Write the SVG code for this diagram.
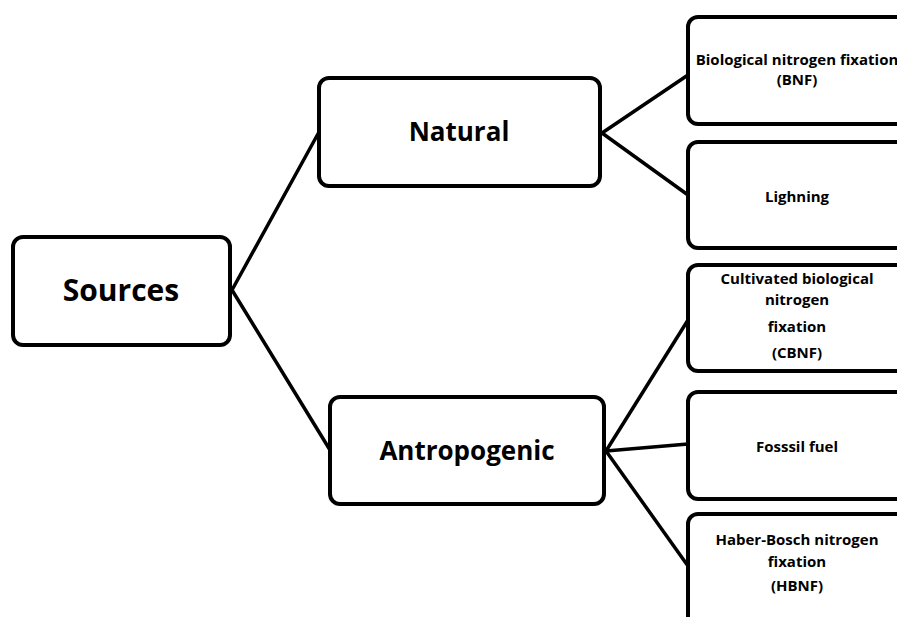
<svg xmlns="http://www.w3.org/2000/svg" width="897" height="617" viewBox="0 0 897 617">
<style>
.box{fill:#fff;stroke:#000;stroke-width:4}
.t{font-family:"Open Sans","Noto Sans",sans-serif;font-weight:bold;fill:#000;text-anchor:middle}
.big{font-size:30px}
.mid{font-size:26px}
.sm{font-size:15px}
.c{stroke:#000;stroke-width:3.5;fill:none;stroke-linecap:round}
</style>
<rect width="897" height="617" fill="#fff"/>
<g id="connectors">
<line class="c" x1="232" y1="290" x2="319" y2="132"/>
<line class="c" x1="232" y1="290" x2="330" y2="450"/>
<line class="c" x1="602" y1="133" x2="688" y2="75"/>
<line class="c" x1="602" y1="133" x2="688" y2="195"/>
<line class="c" x1="606" y1="451" x2="688" y2="320"/>
<line class="c" x1="606" y1="451" x2="688" y2="444"/>
<line class="c" x1="606" y1="451" x2="688" y2="566"/>
</g>
<g id="sources">
<rect class="box" x="13" y="237" width="217" height="108" rx="10"/>
<text class="t big" x="121" y="301">Sources</text>
</g>
<g id="natural">
<rect class="box" x="319" y="78" width="281" height="108" rx="10"/>
<text class="t mid" x="459" y="141">Natural</text>
</g>
<g id="antropogenic">
<rect class="box" x="330" y="397" width="274" height="107" rx="10"/>
<text class="t mid" x="467" y="460">Antropogenic</text>
</g>
<g id="bnf">
<rect class="box" x="688" y="17" width="230" height="107" rx="10"/>
<text class="t sm" x="797" y="65">Biological nitrogen fixation</text>
<text class="t sm" x="797" y="85">(BNF)</text>
</g>
<g id="lighning">
<rect class="box" x="688" y="142" width="230" height="106" rx="10"/>
<text class="t sm" x="797" y="202">Lighning</text>
</g>
<g id="cbnf">
<rect class="box" x="688" y="265" width="230" height="106" rx="10"/>
<text class="t sm" x="797" y="284">Cultivated biological</text>
<text class="t sm" x="797" y="305">nitrogen</text>
<text class="t sm" x="797" y="332">fixation</text>
<text class="t sm" x="797" y="358">(CBNF)</text>
</g>
<g id="fossil">
<rect class="box" x="688" y="392" width="230" height="107" rx="10"/>
<text class="t sm" x="797" y="452">Fosssil fuel</text>
</g>
<g id="hbnf">
<rect class="box" x="688" y="514" width="230" height="120" rx="10"/>
<text class="t sm" x="797" y="545">Haber-Bosch nitrogen</text>
<text class="t sm" x="797" y="567">fixation</text>
<text class="t sm" x="797" y="591">(HBNF)</text>
</g>
</svg>
